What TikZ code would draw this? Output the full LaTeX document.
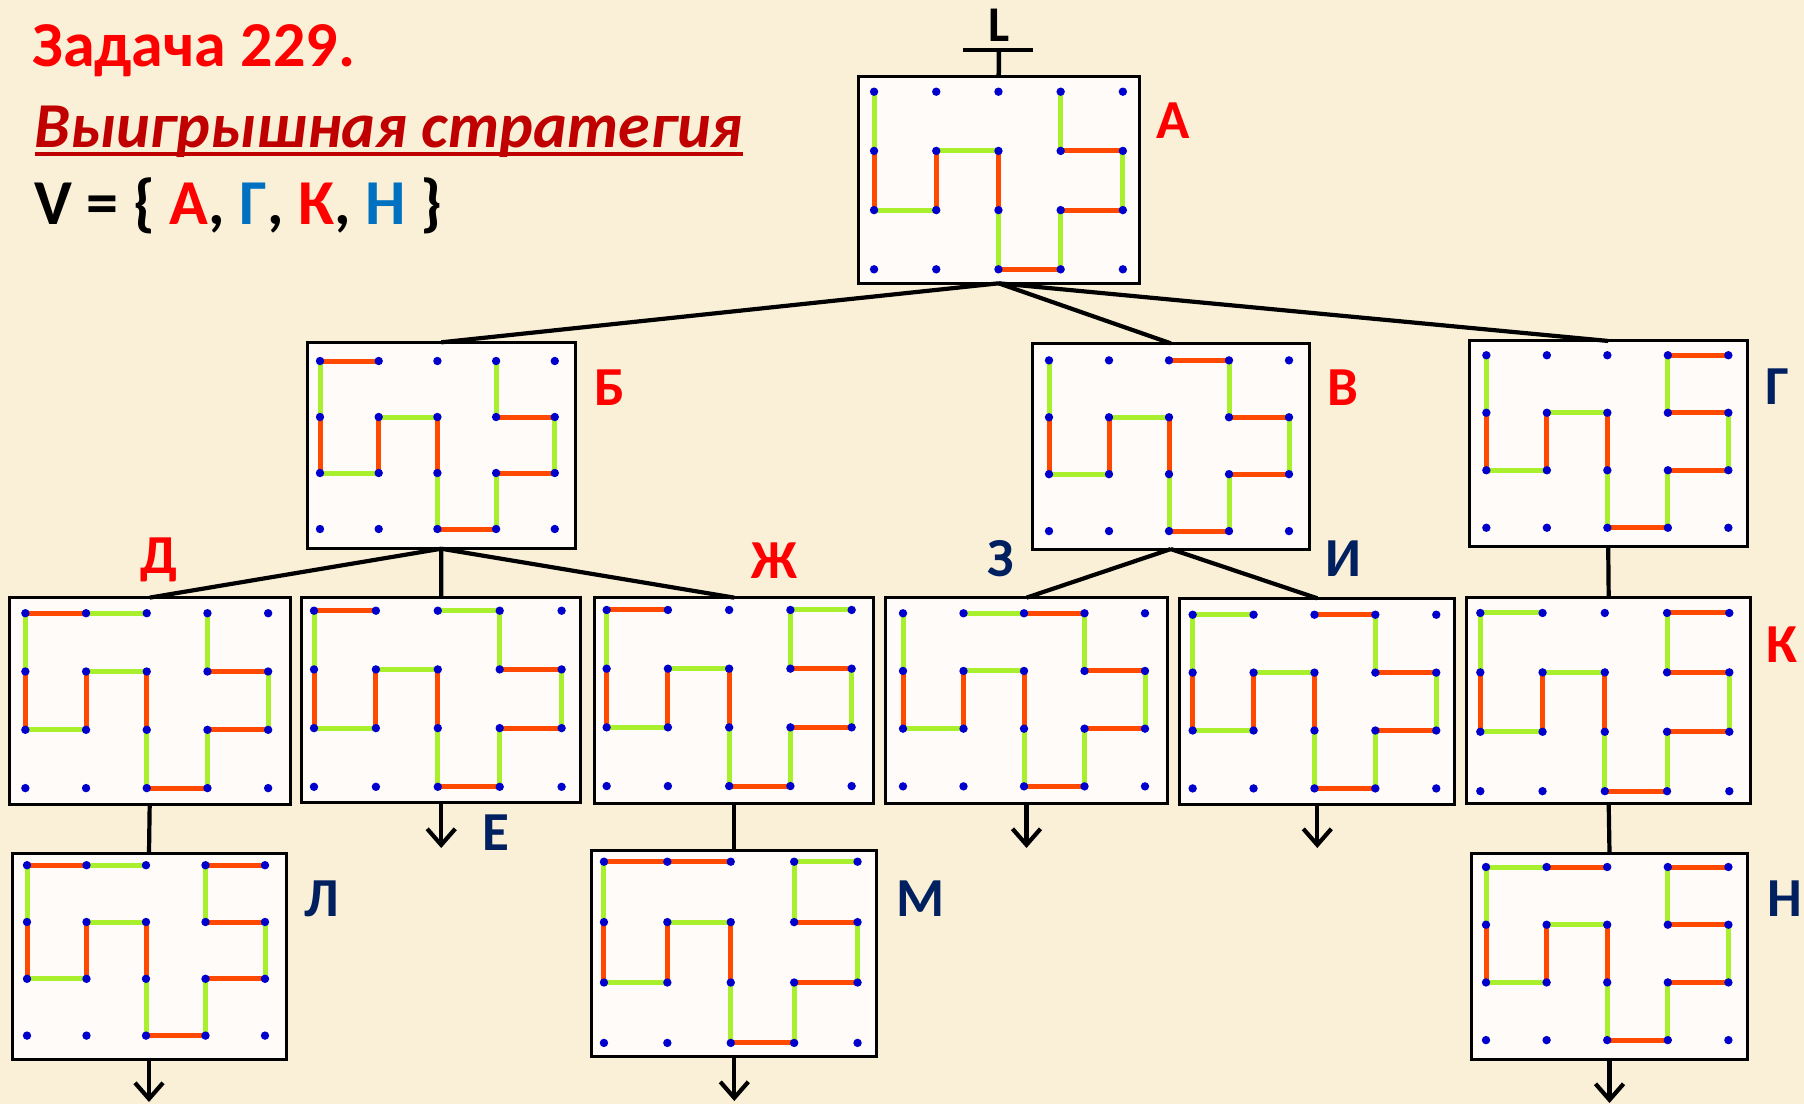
\documentclass[tikz,border=0pt]{standalone}
\usepackage{fontspec}
\setmainfont{Carlito}
\usetikzlibrary{arrows.meta}
\definecolor{bgc}{RGB}{250,240,215}
\definecolor{boxfill}{RGB}{254,251,249}
\definecolor{ered}{RGB}{255,72,0}
\definecolor{egreen}{RGB}{168,240,45}
\definecolor{dotc}{RGB}{0,0,205}
\definecolor{navy}{RGB}{0,32,96}
\definecolor{tred}{RGB}{255,0,0}
\definecolor{dred}{RGB}{192,0,0}
\definecolor{vblue}{RGB}{0,112,192}
\tikzset{
  gbox/.style={rectangle, draw=black, line width=3pt, fill=boxfill, inner sep=0pt, outer sep=0pt},
  eg/.style={draw=egreen, line width=5pt},
  er/.style={draw=ered, line width=5pt},
  conn/.style={line width=4.2pt, black},
  arr/.style={conn, -{Straight Barb[length=16pt,width=28pt]}},
  lblr/.style={text=tred, font=\fontsize{55}{60}\selectfont\bfseries, inner sep=0pt},
  lbln/.style={text=navy, font=\fontsize{55}{60}\selectfont\bfseries, inner sep=0pt},
}
\newcommand\gboxnode[5]{\node[gbox, minimum width=#4pt, minimum height=#5pt] (#1) at (#2,#3) {};}
\newcommand\gboxgrid[6]{%
  \begin{scope}[shift={(#1.north west)}, xshift=#2pt, yshift=-#3pt, x=#4pt, y=-#5pt]
    \foreach \ca/\ra/\cb/\rb/\st in {0/0/0/1/eg, 0/1/0/2/er, 0/2/1/2/eg, 1/1/1/2/er, 1/1/2/1/eg, 2/1/2/2/er, 2/2/2/3/eg, 2/3/3/3/er, 3/2/3/3/eg, 3/2/4/2/er, 4/1/4/2/eg, 3/1/4/1/er, 3/0/3/1/eg}
      {\draw[\st] (\ca,\ra) -- (\cb,\rb);}
    \foreach \ca/\ra/\cb/\rb/\st in {#6}
      {\draw[\st] (\ca,\ra) -- (\cb,\rb);}
    \foreach \ii in {0,...,4}{\foreach \jj in {0,...,3}{\fill[dotc] (\ii,\jj) circle[radius=4.2pt];}}
  \end{scope}}
\begin{document}
\begin{tikzpicture}[x=1pt, y=-1pt]
\fill[bgc] (0,0) rectangle (1804,1104);
\useasboundingbox (0,0) rectangle (1804,1104);

% titles
\node[anchor=base west, inner sep=0pt, text=tred, font=\fontsize{64}{70}\selectfont\bfseries] (title) at (32,66.7) {Задача 229.};
\node[anchor=base west, inner sep=0pt, text=dred, font=\fontsize{64}{70}\selectfont\bfseries\itshape] (sub) at (34.5,147) {Выигрышная стратегия};
\draw[dred, line width=3.8pt] ([yshift=-7pt]sub.base west) -- ([yshift=-7pt]sub.base east);
\node[anchor=base west, inner sep=0pt, font=\fontsize{64}{70}\selectfont\bfseries] (vset) at (34.5,224) {V = \{ \textcolor{tred}{А}, \textcolor{vblue}{Г}, \textcolor{tred}{К}, \textcolor{vblue}{Н} \}};

% boxes
\gboxnode{bA}{998.7}{180}{280.7}{206.6}
\gboxnode{bB}{441.3}{445.5}{268}{206.4}
\gboxnode{bV}{1170.8}{446.2}{277}{205.7}
\gboxnode{bG}{1608.2}{443.8}{278.3}{205.7}
\gboxnode{bD}{149.7}{701}{280.7}{206.8}
\gboxnode{bE}{441.2}{700}{279}{205.4}
\gboxnode{bZh}{734.3}{700.8}{279.3}{206.3}
\gboxnode{bZ}{1026.5}{700.8}{281.6}{206.3}
\gboxnode{bI}{1317.3}{701.3}{274.7}{206}
\gboxnode{bK}{1608.7}{700.8}{284}{206.3}
\gboxnode{bL}{149}{956}{274}{206}
\gboxnode{bM}{734.3}{953}{285.3}{206}
\gboxnode{bN}{1609.5}{956.3}{275.6}{206}

\gboxgrid{bA}{15.7}{15}{62.2}{59.2}{0/0/0/1/eg}
\gboxgrid{bB}{12.7}{18.7}{58.7}{56}{0/0/1/0/er}
\gboxgrid{bV}{16.7}{17}{60}{56.9}{2/0/3/0/er}
\gboxgrid{bG}{17.3}{14.3}{60.5}{57.5}{3/0/4/0/er}
\gboxgrid{bD}{16}{15.6}{60.7}{58.3}{0/0/1/0/er, 1/0/2/0/eg}
\gboxgrid{bE}{12.3}{13.4}{61.9}{58.7}{0/0/1/0/er, 2/0/3/0/eg}
\gboxgrid{bZh}{12}{12.3}{61.25}{58.7}{0/0/1/0/er, 3/0/4/0/eg}
\gboxgrid{bZ}{17.3}{15.6}{60.5}{57.7}{2/0/3/0/er, 1/0/2/0/eg}
\gboxgrid{bI}{12.7}{16.4}{60.9}{57.9}{2/0/3/0/er, 0/0/1/0/eg}
\gboxgrid{bK}{13.6}{15.3}{62.25}{59.4}{3/0/4/0/er, 0/0/1/0/eg}
\gboxgrid{bL}{15}{12.2}{59.5}{56.8}{0/0/1/0/er, 1/0/2/0/eg, 3/0/4/0/er}
\gboxgrid{bM}{12.3}{11.7}{63.4}{60.4}{0/0/1/0/er, 1/0/2/0/er, 3/0/4/0/eg}
\gboxgrid{bN}{14.3}{13.7}{60.6}{57.7}{3/0/4/0/er, 0/0/1/0/eg, 1/0/2/0/er}

% labels
\node[lblr] (lA) at (1173.5,120.8) {А};
\node[lblr] (lB) at (609.8,387.7) {Б};
\node[lblr] (lV) at (1342.6,387.7) {В};
\node[lbln] (lG) at (1777.5,386.6) {Г};
\node[lblr] (lD) at (158.8,560.3) {Д};
\node[lblr] (lZh) at (774.3,560.3) {Ж};
\node[lbln] (lZ) at (1001,559) {З};
\node[lbln] (lI) at (1343.8,559) {И};
\node[lblr] (lK) at (1782,644.3) {К};
\node[lbln] (lE) at (495.9,833) {Е};
\node[lbln] (lL) at (322,898.5) {Л};
\node[lbln] (lM) at (920.4,898.5) {М};
\node[lbln] (lN) at (1784.4,898.5) {Н};

% L and T bar
\node[inner sep=0pt, font=\fontsize{50}{56}\selectfont\bfseries] (Lt) at (999,25) {L};
\coordinate (Tl) at (963,50);
\coordinate (Tr) at (1033,50);
\coordinate (Tm) at (999,50);
\draw[line width=4.5pt] (Tl) -- (Tr);
\draw[line width=4.5pt] (Tm) -- (bA.north);

% connectors
\draw[conn] (bA.south) -- (bB.north);
\draw[conn] (bA.south) -- (bV.north);
\draw[conn] (bA.south) -- (bG.north);
\draw[conn] (bB.south) -- (bD.north);
\draw[conn] (bB.south) -- (bE.north);
\draw[conn] (bB.south) -- (bZh.north);
\draw[conn] (bV.south) -- (bZ.north);
\draw[conn] (bV.south) -- (bI.north);
\draw[conn] (bG.south) -- (bK.north);
\draw[conn] (bD.south) -- (bL.north);
\draw[conn] (bZh.south) -- (bM.north);
\draw[conn] (bK.south) -- (bN.north);

% arrows
\coordinate (eE) at (441.2,848);
\coordinate (eZ) at (1026.5,848);
\coordinate (eI) at (1317.3,848);
\coordinate (eL) at (149,1102);
\coordinate (eM) at (734.3,1101);
\coordinate (eN) at (1609.5,1103);
\draw[arr] (bE.south) -- (eE);
\draw[arr] (bZ.south) -- (eZ);
\draw[arr] (bI.south) -- (eI);
\draw[arr] (bL.south) -- (eL);
\draw[arr] (bM.south) -- (eM);
\draw[arr] (bN.south) -- (eN);
\end{tikzpicture}
\end{document}
